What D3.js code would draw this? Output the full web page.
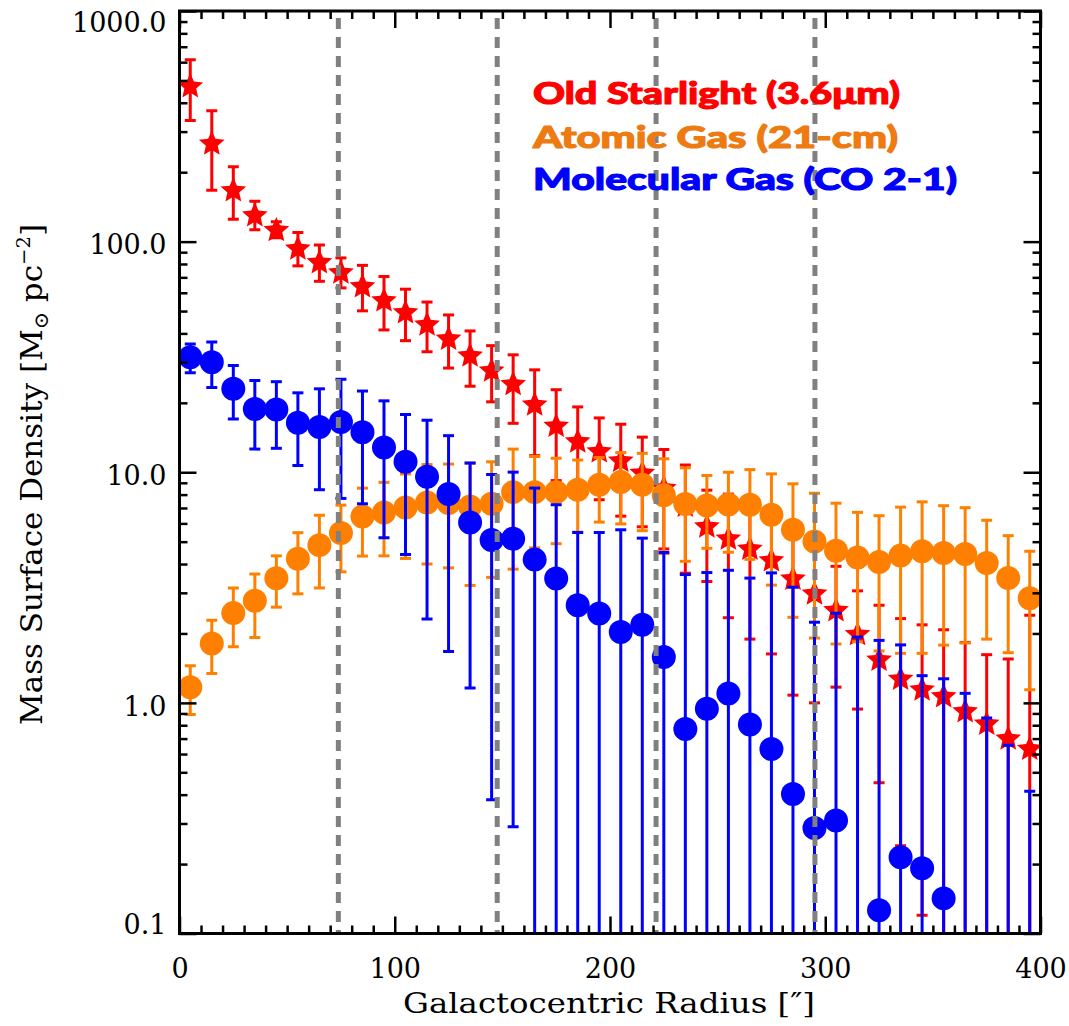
<!DOCTYPE html>
<html><head><meta charset="utf-8">
<script src="https://cdn.jsdelivr.net/npm/d3@7"></script>
<style>body{margin:0;background:#fff}</style>
</head><body>
<svg id="chart" width="1069" height="1026"></svg>
<script>
// ---------------- data ----------------
const radius = [5,15,25,35,45,55,65,75,85,95,105,115,125,135,145,155,165,175,185,195,
                205,215,225,235,245,255,265,275,285,295,305,315,325,335,345,355,365,375,385,395];
const starVal = [475,268,168,131,113,94,82,74,64.5,56,49.7,44,38.2,32.3,27.8,24.3,19.8,16.0,13.7,12.4,
                 11.3,10.0,8.6,7.2,5.86,5.19,4.69,4.18,3.48,3.0,2.54,2.0,1.55,1.28,1.15,1.075,0.926,0.818,0.705,0.637];
const starErr = [140,101,43,18.5,9,15.5,14.7,11,14.4,14.6,12.5,10.7,9.9,8.7,7.6,8.0,8.0,6.8,5.5,4.8,
                 4.85,4.2,3.95,3.55,2.5,2.85,2.8,2.55,2.4,2.0,1.37,1.06,1.1,1.04,1.03,1.0,0.9,0.8,0.845,1.76];
const hiVal = [1.17,1.81,2.45,2.77,3.47,4.22,4.83,5.45,6.43,6.69,7.03,7.4,7.35,7.1,7.3,8.2,8.2,8.2,8.4,8.83,
               9.07,8.83,7.94,7.28,7.18,7.25,7.23,6.54,5.63,5.01,4.57,4.27,4.08,4.35,4.54,4.47,4.42,4.04,3.48,2.84];
const hiErr = [0.28,0.47,0.7,0.85,0.87,1.25,1.68,1.75,2.1,2.35,2.8,3.4,3.5,3.87,3.8,4.4,3.5,3.3,2.9,2.75,
               3.1,3.25,3.5,3.17,2.5,2.75,3.04,3.3,3.28,3.1,2.77,2.43,2.4,2.71,2.9,2.69,2.6,2.15,1.83,1.7];
const h2Val = [31.5,30.0,23.0,18.8,18.7,16.4,15.7,16.5,14.9,12.8,11.1,9.56,8.04,6.06,5.08,5.15,4.18,3.46,2.65,2.44,
               2.03,2.18,1.58,0.771,0.944,1.097,0.805,0.631,0.403,0.287,0.309,0.05,0.126,0.214,0.192,0.142,0.05,0.05,0.05,0.05];
const h2Err = [4.5,6.7,6.0,6.2,6.0,5.7,7.3,8.8,7.6,7.6,6.7,7.25,6.37,4.9,4.7,4.86,4.36,3.77,2.83,3.04,
               3.6,3.0,2.91,2.83,2.73,2.66,2.67,3.03,2.77,1.95,2.14,1.88,1.74,1.57,1.12,1.13,1.05,0.81,0.605,0.364];
const dashedRadii = [73.8,147.6,221.4,295.2];
const xMajor = [0,100,200,300,400];
const yMajor = [0.1,1,10,100,1000];
const yLabels = ["0.1","1.0","10.0","100.0","1000.0"];
const legendText = ["Old Starlight (3.6\u03bcm)","Atomic Gas (21-cm)","Molecular Gas (CO 2-1)"];

// ---------------- setup ----------------
const svg = d3.select("#chart");
const L=179.5, R=1040.5, T=11, B=933.5;
const x = d3.scaleLinear().domain([0,400]).range([L,R]);
const y = d3.scaleLog().domain([0.1,1000]).range([B,T]);
const RED="#ff0000", ORANGE="#ff8000", BLUE="#0000ff";

svg.append("defs").append("clipPath").attr("id","plotclip")
  .append("rect").attr("x",L).attr("y",T).attr("width",R-L).attr("height",B-T);
const plot = svg.append("g").attr("clip-path","url(#plotclip)");

function yc(v){ return v<=0.1 ? B+2 : y(v); }

function errorBars(vals, errs, color){
  const g = plot.append("g").attr("stroke",color).attr("stroke-width",3).attr("fill","none");
  radius.forEach((r,i)=>{
    const px = x(r), top = yc(vals[i]+errs[i]), bot = yc(vals[i]-errs[i]);
    g.append("line").attr("x1",px).attr("x2",px).attr("y1",top).attr("y2",bot);
    g.append("line").attr("x1",px-5.5).attr("x2",px+5.5).attr("y1",top).attr("y2",top);
    g.append("line").attr("x1",px-5.5).attr("x2",px+5.5).attr("y1",bot).attr("y2",bot);
  });
}
function starPath(R1,R2){
  const pts=[];
  for(let k=0;k<10;k++){
    const a = -Math.PI/2 + k*Math.PI/5, rr = k%2===0?R1:R2;
    pts.push([rr*Math.cos(a), rr*Math.sin(a)]);
  }
  return "M"+pts.map(p=>p[0].toFixed(2)+","+p[1].toFixed(2)).join("L")+"Z";
}

// red (old starlight)
errorBars(starVal, starErr, RED);
const sp = starPath(13.5,6.2);
plot.append("g").selectAll("path").data(radius).join("path")
  .attr("d",sp).attr("fill",RED)
  .attr("transform",(r,i)=>`translate(${x(r)},${y(starVal[i])+1})`);

// orange (atomic)
errorBars(hiVal, hiErr, ORANGE);
plot.append("g").selectAll("circle").data(radius).join("circle")
  .attr("cx",r=>x(r)).attr("cy",(r,i)=>y(hiVal[i])).attr("r",12).attr("fill",ORANGE);

// blue (molecular)
errorBars(h2Val, h2Err, BLUE);
plot.append("g").selectAll("circle").data(radius).join("circle")
  .attr("cx",r=>x(r)).attr("cy",(r,i)=>y(h2Val[i])).attr("r",12).attr("fill",BLUE);

// dashed lines
svg.append("g").selectAll("line").data(dashedRadii).join("line")
  .attr("x1",d=>x(d)).attr("x2",d=>x(d)).attr("y1",T+7).attr("y2",B)
  .attr("stroke","#808080").attr("stroke-width",5).attr("stroke-dasharray","11,8");

// ---------------- axes ----------------
const xMinor = d3.range(0,401,10).filter(v=>v%100!==0);
const yMinor = [];
[0.1,1,10,100].forEach(d=>{ for(let m=2;m<=9;m++) yMinor.push(+(d*m).toPrecision(3)); });

const FONT = "'DejaVu Serif', serif";
function styleAxis(g){
  g.select(".domain").remove();
  g.selectAll(".tick line").attr("stroke","#000").attr("stroke-width",2.5);
  g.selectAll("text").attr("font-family",FONT).attr("font-size",27).attr("fill","#000");
}
// bottom
svg.append("g").attr("transform",`translate(0,${B})`)
  .call(d3.axisBottom(x).tickValues(xMajor).tickSize(-17).tickPadding(25).tickFormat(d3.format("d")))
  .call(styleAxis);
svg.append("g").attr("transform",`translate(0,${B})`)
  .call(d3.axisBottom(x).tickValues(xMinor).tickSize(-8).tickFormat(""))
  .call(styleAxis);
// top
svg.append("g").attr("transform",`translate(0,${T})`)
  .call(d3.axisTop(x).tickValues(xMajor).tickSize(-17).tickFormat(""))
  .call(styleAxis);
svg.append("g").attr("transform",`translate(0,${T})`)
  .call(d3.axisTop(x).tickValues(xMinor).tickSize(-8).tickFormat(""))
  .call(styleAxis);
// left
const yl = svg.append("g").attr("transform",`translate(${L},0)`)
  .call(d3.axisLeft(y).tickValues(yMajor).tickSize(-17).tickPadding(13)
        .tickFormat((d,i)=>yLabels[i]))
  .call(styleAxis);
yl.selectAll("text").attr("dy",(d,i)=> i===0 ? "-0.0em" : (i===yMajor.length-1 ? "0.75em" : "0.45em"));
svg.append("g").attr("transform",`translate(${L},0)`)
  .call(d3.axisLeft(y).tickValues(yMinor).tickSize(-8).tickFormat(""))
  .call(styleAxis);
// right
svg.append("g").attr("transform",`translate(${R},0)`)
  .call(d3.axisRight(y).tickValues(yMajor).tickSize(-17).tickFormat(""))
  .call(styleAxis);
svg.append("g").attr("transform",`translate(${R},0)`)
  .call(d3.axisRight(y).tickValues(yMinor).tickSize(-8).tickFormat(""))
  .call(styleAxis);

// frame
svg.append("rect").attr("x",L).attr("y",T).attr("width",R-L).attr("height",B-T)
  .attr("fill","none").attr("stroke","#000").attr("stroke-width",3);

// axis titles
svg.append("text").attr("x",(403+815)/2).attr("y",1013).attr("text-anchor","middle")
  .attr("font-family",FONT).attr("font-size",28).attr("textLength",412).attr("lengthAdjust","spacingAndGlyphs")
  .text("Galactocentric Radius [\u2033]");

const yt = svg.append("text").attr("transform","translate(42,474.5) rotate(-90)")
  .attr("text-anchor","middle").attr("font-family",FONT).attr("font-size",30)
  .attr("textLength",501).attr("lengthAdjust","spacingAndGlyphs");
yt.append("tspan").text("Mass Surface Density [M");
yt.append("tspan").attr("font-size",20).attr("dy",6).text("\u2299");
yt.append("tspan").attr("dy",-6).text(" pc");
yt.append("tspan").attr("font-size",19).attr("dy",-12).text("\u22122");
yt.append("tspan").attr("dy",12).text("]");

// legend
const legendColors = [RED,"#ee7a12",BLUE];
const legendWidths = [367,365,424];
const legendBase = [104,148,190];
svg.append("g").selectAll("text").data(legendText).join("text")
  .attr("x",533).attr("y",(d,i)=>legendBase[i])
  .attr("font-family","Lato, 'DejaVu Sans', sans-serif").attr("font-weight",900)
  .attr("font-size",31).attr("fill",(d,i)=>legendColors[i])
  .attr("stroke",(d,i)=>legendColors[i]).attr("stroke-width",1.1).attr("stroke-linejoin","round")
  .attr("textLength",(d,i)=>legendWidths[i]).attr("lengthAdjust","spacingAndGlyphs")
  .text(d=>d);
</script>
</body></html>
